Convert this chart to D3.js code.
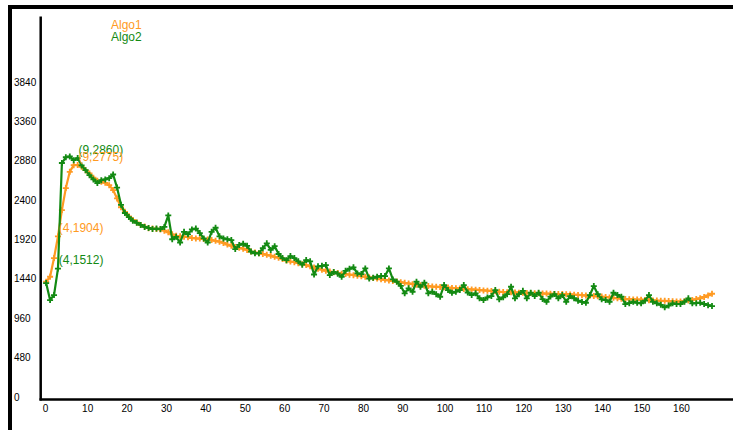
<!DOCTYPE html>
<html>
<head>
<meta charset="utf-8">
<script src="https://cdn.jsdelivr.net/npm/d3@7"></script>
<style>
  html, body { margin: 0; padding: 0; background: #ffffff; }
  svg { display: block; font-family: "Liberation Sans", Arial, sans-serif; }
</style>
</head>
<body>
<svg id="chart" width="733" height="430"></svg>
<script>
// Iteration index (x) for both runs
const steps = d3.range(1, 171);

// Algo1 measurements, one per step
const algo1 = [
  1351,1412,1640,1904,2226,2494,2693,2774,2775,2753,
  2713,2673,2620,2585,2570,2558,2530,2470,2368,2260,
  2205,2150,2105,2075,2045,2025,2005,2000,1995,1990,
  1975,1955,1930,1912,1905,1900,1895,1885,1880,1878,
  1872,1868,1860,1850,1840,1825,1805,1790,1775,1765,
  1755,1740,1720,1708,1698,1690,1680,1670,1655,1645,
  1630,1610,1598,1590,1578,1565,1555,1540,1525,1510,
  1498,1485,1475,1466,1458,1450,1445,1438,1432,1425,
  1418,1412,1405,1398,1390,1382,1375,1368,1360,1353,
  1345,1338,1330,1322,1315,1308,1302,1298,1292,1290,
  1286,1283,1280,1276,1272,1268,1263,1260,1257,1255,
  1250,1246,1242,1238,1234,1229,1226,1224,1222,1220,
  1218,1217,1215,1214,1212,1210,1208,1207,1205,1203,
  1202,1201,1200,1197,1193,1190,1187,1183,1180,1177,
  1174,1170,1165,1160,1155,1150,1145,1140,1138,1136,
  1134,1132,1130,1127,1124,1121,1119,1118,1116,1112,
  1110,1110,1114,1122,1130,1140,1150,1165,1185,1205
];

// Algo2 measurements, one per step
const algo2 = [
  1335,1128,1189,1512,2800,2870,2880,2835,2860,2770,
  2713,2652,2600,2555,2590,2600,2615,2660,2500,2290,
  2190,2140,2095,2070,2045,2020,2008,1995,2000,1995,
  2020,2160,1870,1900,1830,1960,1930,1990,2000,1945,
  1880,1830,1960,2010,1905,1880,1870,1860,1750,1800,
  1815,1790,1720,1698,1700,1760,1820,1740,1785,1690,
  1640,1615,1665,1640,1600,1560,1616,1600,1440,1540,
  1545,1555,1433,1470,1450,1412,1485,1510,1527,1453,
  1445,1514,1390,1400,1412,1420,1420,1514,1380,1351,
  1300,1210,1271,1229,1351,1290,1339,1210,1229,1200,
  1168,1311,1250,1217,1230,1250,1311,1220,1189,1210,
  1150,1128,1160,1177,1250,1137,1161,1200,1290,1149,
  1200,1241,1149,1217,1177,1217,1140,1107,1170,1201,
  1149,1189,1107,1177,1150,1120,1105,1095,1189,1299,
  1200,1137,1128,1107,1217,1190,1168,1079,1090,1107,
  1095,1088,1120,1189,1107,1088,1070,1039,1060,1088,
  1080,1079,1107,1149,1088,1090,1095,1080,1065,1055
];

const seriesNames = ["Algo1", "Algo2"];
const seriesColors = ["#ff9a22", "#138a13"];

// Axis tick values
const yTicks = [0, 480, 960, 1440, 1920, 2400, 2880, 3360, 3840];
const xTicks = [0, 10, 20, 30, 40, 50, 60, 70, 80, 90, 100, 110, 120, 130, 140, 150, 160];

// Labelled points: [series index, step, value]
const callouts = [
  [1, 9, 2860],
  [0, 9, 2775],
  [0, 4, 1904],
  [1, 4, 1512]
];

const svg = d3.select("#chart");

const x = d3.scaleLinear().domain([0, 160]).range([42.2, 42.2 + 3.94 * 160]);
const y = d3.scaleLinear().domain([0, 3840]).range([392.5, 392.5 - 3840 * 0.08196]);

// window frame (top and left edges)
svg.append("rect").attr("x", 8).attr("y", 5).attr("width", 725).attr("height", 4).attr("fill", "#000");
svg.append("rect").attr("x", 8).attr("y", 5).attr("width", 4).attr("height", 425).attr("fill", "#000");

// axes lines
svg.append("line").attr("x1", 40.7).attr("x2", 40.7).attr("y1", 16.5).attr("y2", 400.5)
  .attr("stroke", "#000").attr("stroke-width", 2.5);
svg.append("line").attr("x1", 39.5).attr("x2", 733).attr("y1", 399.5).attr("y2", 399.5)
  .attr("stroke", "#000").attr("stroke-width", 2.5);

// y tick labels: text top sits on the value
svg.append("g").selectAll("text").data(yTicks).join("text")
  .attr("x", 14).attr("y", d => y(d) + 8)
  .attr("font-size", 10).attr("fill", "#000")
  .text(d => d);

// x tick labels: text left edge sits on the value
svg.append("g").selectAll("text").data(xTicks).join("text")
  .attr("x", d => x(d) + 0.5).attr("y", 411.5)
  .attr("font-size", 10).attr("fill", "#000")
  .text(d => d);

const series = [algo1, algo2];
const line = d3.line().x(d => x(d[0])).y(d => y(d[1]));

series.forEach((vals, i) => {
  const pts = steps.map((s, k) => [s, vals[k]]);
  const g = svg.append("g");
  g.append("path").datum(pts)
    .attr("d", line).attr("fill", "none")
    .attr("stroke", seriesColors[i]).attr("stroke-width", 2.2)
    .attr("stroke-linejoin", "round");
  // plus-shaped point markers
  g.selectAll("path.mk").data(pts).join("path")
    .attr("class", "mk")
    .attr("d", d => {
      const cx = x(d[0]), cy = y(d[1]);
      return `M${cx - 3},${cy}H${cx + 3}M${cx},${cy - 3}V${cy + 3}`;
    })
    .attr("stroke", seriesColors[i]).attr("stroke-width", 1.8).attr("fill", "none");
});

// legend
seriesNames.forEach((name, i) => {
  svg.append("text").attr("x", 111).attr("y", 29 + i * 12)
    .attr("font-size", 12).attr("fill", seriesColors[i]).text(name);
});

// point callouts
svg.append("g").selectAll("text").data(callouts).join("text")
  .attr("x", d => x(d[1]) + 0.8)
  .attr("y", d => y(d[2]) - 4.5)
  .attr("font-size", 12)
  .attr("fill", d => seriesColors[d[0]])
  .text(d => `(${d[1]},${d[2]})`);
</script>
</body>
</html>
